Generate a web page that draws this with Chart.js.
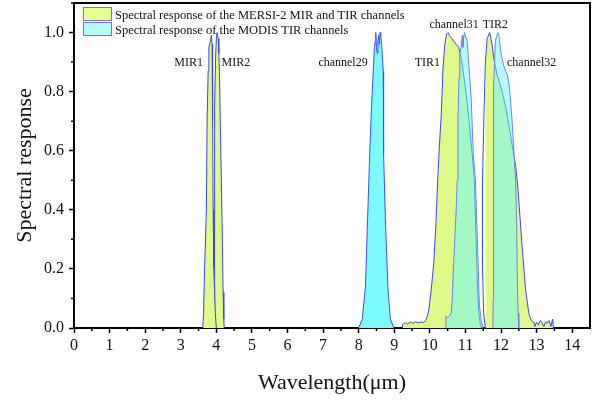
<!DOCTYPE html>
<html>
<head>
    <title>Spectral response - MERSI-2 / MODIS</title>
    <script src="https://cdn.jsdelivr.net/npm/chart.js"></script>
    <style>
        html, body { margin: 0; padding: 0; background: #fff; }
        #wrap { width: 600px; height: 402px; position: relative; }
    </style>
</head>
<body>
    <div id="wrap"><canvas id="srfChart"></canvas></div>
    <script>
        // MERSI-2 channels (wavelength in um, normalised response)
        const mir1Wl   = [3.62, 3.64, 3.67, 3.72, 3.74, 3.77, 3.79, 3.83, 3.86, 3.88, 3.895, 3.91, 3.93, 3.97, 4.00];
        const mir1Resp = [0, 0.05, 0.2, 0.4, 0.7, 0.87, 0.95, 0.97, 0.99, 0.96, 0.7, 0.4, 0.2, 0.05, 0];

        const mir2Wl   = [3.94, 3.945, 3.95, 3.96, 3.98, 4.00, 4.02, 4.05, 4.07, 4.09, 4.11, 4.16, 4.19, 4.21, 4.22];
        const mir2Resp = [0, 0.2, 0.5, 0.75, 0.92, 0.98, 1.0, 0.98, 0.93, 0.85, 0.7, 0.37, 0.12, 0.03, 0];

        const tir1Wl   = [9.22, 9.23, 9.3, 9.38, 9.45, 9.52, 9.6, 9.68, 9.75, 9.82, 9.88, 9.93, 9.97, 10.03, 10.11, 10.17, 10.22, 10.27, 10.32, 10.37, 10.42, 10.47, 10.51, 10.55, 10.62, 10.67, 10.74, 10.81, 10.9, 10.98, 11.05, 11.12, 11.18, 11.25, 11.3, 11.34, 11.38, 11.42, 11.45];
        const tir1Resp = [0, 0.012, 0.018, 0.014, 0.02, 0.016, 0.021, 0.017, 0.02, 0.019, 0.025, 0.04, 0.06, 0.12, 0.22, 0.35, 0.5, 0.62, 0.72, 0.88, 0.96, 0.995, 1.0, 0.99, 0.98, 0.97, 0.96, 0.95, 0.9, 0.83, 0.76, 0.68, 0.6, 0.5, 0.3, 0.13, 0.05, 0.01, 0];

        const tir2Wl   = [11.56, 11.51, 11.48, 11.48, 11.52, 11.56, 11.61, 11.68, 11.75, 11.8, 11.89, 12.03, 12.13, 12.22, 12.31, 12.41, 12.47, 12.53, 12.59, 12.69, 12.78, 12.85, 12.92, 12.95, 13.0, 13.05, 13.1, 13.15, 13.2, 13.25, 13.3, 13.35, 13.4, 13.45, 13.47];
        const tir2Resp = [0, 0.05, 0.2, 0.5, 0.72, 0.9, 0.98, 1.0, 0.957, 0.91, 0.856, 0.8, 0.75, 0.687, 0.62, 0.55, 0.48, 0.38, 0.28, 0.13, 0.05, 0.025, 0.02, 0.005, 0.02, 0.01, 0.025, 0.02, 0.005, 0.02, 0.018, 0.025, 0.005, 0.03, 0];

        // MODIS channels
        const ch29Wl   = [8.0, 8.1, 8.19, 8.25, 8.31, 8.36, 8.41, 8.44, 8.46, 8.48, 8.5, 8.52, 8.54, 8.56, 8.58, 8.6, 8.62, 8.64, 8.66, 8.69, 8.7, 8.75, 8.82, 8.89, 8.99];
        const ch29Resp = [0, 0.03, 0.14, 0.37, 0.59, 0.75, 0.87, 0.95, 0.97, 1.0, 0.95, 0.93, 0.97, 0.99, 0.96, 1.0, 0.99, 0.97, 0.93, 0.87, 0.59, 0.37, 0.14, 0.03, 0];

        const ch31Wl   = [10.44, 10.45, 10.5, 10.55, 10.6, 10.63, 10.66, 10.7, 10.74, 10.77, 10.79, 10.82, 10.84, 10.88, 10.91, 10.93, 10.95, 10.97, 11.0, 11.05, 11.09, 11.16, 11.22, 11.28, 11.34, 11.39, 11.45, 11.5];
        const ch31Resp = [0, 0.04, 0.035, 0.04, 0.05, 0.1, 0.2, 0.3, 0.4, 0.5, 0.7, 0.85, 0.93, 0.95, 0.99, 0.95, 0.98, 1.0, 0.99, 0.97, 0.9, 0.78, 0.59, 0.5, 0.28, 0.08, 0.02, 0];

        const ch32Wl   = [11.77, 11.78, 11.785, 11.79, 11.8, 11.84, 11.88, 11.91, 11.94, 11.97, 12.0, 12.05, 12.1, 12.17, 12.22, 12.25, 12.3, 12.35, 12.41, 12.44, 12.46, 12.48, 12.5];
        const ch32Resp = [0, 0.1, 0.4, 0.7, 0.82, 0.97, 0.99, 1.0, 0.99, 0.96, 0.93, 0.9, 0.88, 0.86, 0.83, 0.79, 0.72, 0.62, 0.5, 0.35, 0.15, 0.05, 0];

        // channel names and where they sit (um, response)
        const bandNames = ['MIR1', 'MIR2', 'channel29', 'TIR1', 'channel31', 'TIR2', 'channel32'];
        const bandNameX = [3.22, 4.55, 7.56, 9.93, 10.68, 11.84, 12.86];
        const bandNameY = [0.887, 0.887, 0.887, 0.887, 1.014, 1.014, 0.887];

        const legendTexts = ['Spectral response of the MERSI-2 MIR and TIR channels', 'Spectral response of the MODIS TIR channels'];

        const SERIF = "'Liberation Serif', 'Times New Roman', serif";
        const YELLOW = 'rgb(223,250,138)';
        const zip = (xs, ys) => xs.map((x, i) => ({ x: x, y: ys[i] }));

        function mersi(data) {
            return { data: data, order: 2, fill: 'origin', backgroundColor: YELLOW,
                     borderColor: 'rgb(60,70,225)', borderWidth: 1, pointRadius: 0, tension: 0 };
        }
        function modis(data, fillCol, lineCol) {
            return { data: data, order: 1, fill: 'origin', backgroundColor: fillCol,
                     borderColor: lineCol, borderWidth: 1, pointRadius: 0, tension: 0 };
        }

        // minor ticks, plot frame, band names and the in-plot legend
        const decorations = {
            id: 'decorations',
            afterDraw(chart) {
                const ctx = chart.ctx;
                const { left, right, top, bottom } = chart.chartArea;
                const xs = chart.scales.x, ys = chart.scales.y;
                ctx.save();
                ctx.strokeStyle = '#000';
                ctx.lineWidth = 1.5;
                ctx.beginPath();
                for (let v = 0.5; v < 14.5; v += 1) {
                    const px = xs.getPixelForValue(v);
                    ctx.moveTo(px, bottom); ctx.lineTo(px, bottom + 3);
                }
                for (let v = 0.1; v < 1.1; v += 0.2) {
                    const py = ys.getPixelForValue(v);
                    ctx.moveTo(left, py); ctx.lineTo(left - 3, py);
                }
                ctx.stroke();

                ctx.lineWidth = 2;
                ctx.beginPath();
                ctx.moveTo(left, top); ctx.lineTo(right, top); ctx.lineTo(right, bottom);
                ctx.stroke();

                ctx.fillStyle = '#111';
                ctx.font = '12px ' + SERIF;
                ctx.textAlign = 'center';
                ctx.textBaseline = 'alphabetic';
                bandNames.forEach((name, i) => {
                    ctx.fillText(name, xs.getPixelForValue(bandNameX[i]), ys.getPixelForValue(bandNameY[i]));
                });

                const boxFill = ['rgb(230,255,148)', 'rgb(182,252,255)'];
                ctx.textAlign = 'left';
                ctx.font = '12.5px ' + SERIF;
                legendTexts.forEach((txt, i) => {
                    const y = 7 + i * 15;
                    ctx.fillStyle = boxFill[i];
                    ctx.fillRect(83, y, 28, 13);
                    ctx.strokeStyle = 'rgb(110,115,225)';
                    ctx.lineWidth = 1;
                    ctx.strokeRect(83.5, y + 0.5, 28, 13);
                    ctx.fillStyle = '#111';
                    ctx.fillText(txt, 115, y + 11.5);
                });
                ctx.restore();
            }
        };

        new Chart(document.getElementById('srfChart'), {
            type: 'line',
            data: {
                datasets: [
                    mersi(zip(mir1Wl, mir1Resp)),
                    mersi(zip(mir2Wl, mir2Resp)),
                    mersi(zip(tir1Wl, tir1Resp)),
                    mersi(zip(tir2Wl, tir2Resp)),
                    modis(zip(ch29Wl, ch29Resp), 'rgb(125,250,255)', 'rgb(60,80,230)'),
                    modis(zip(ch31Wl, ch31Resp), 'rgba(105,245,255,0.5)', 'rgb(110,130,235)'),
                    modis(zip(ch32Wl, ch32Resp), 'rgba(105,245,255,0.5)', 'rgb(110,130,235)')
                ]
            },
            options: {
                responsive: true,
                maintainAspectRatio: false,
                animation: false,
                layout: { padding: { top: 3, right: 10, left: 0, bottom: 0 } },
                plugins: { legend: { display: false }, tooltip: { enabled: false } },
                scales: {
                    x: {
                        type: 'linear', min: 0, max: 14.5,
                        afterFit: s => { s.height = 74; s.paddingLeft = 0; s.paddingRight = 0; },
                        border: { color: '#000', width: 2 },
                        grid: { drawOnChartArea: false, tickLength: 5, tickColor: '#000', tickWidth: 1.5 },
                        ticks: { stepSize: 1, includeBounds: false, padding: 3, color: '#111',
                                 font: { family: SERIF, size: 16 } },
                        title: { display: true, text: 'Wavelength(\u03bcm)', color: '#111',
                                 font: { family: SERIF, size: 22 }, padding: { top: 0, bottom: 6 } }
                    },
                    y: {
                        min: 0, max: 1.1,
                        afterFit: s => { s.width = 74; s.paddingTop = 0; s.paddingBottom = 0; },
                        border: { color: '#000', width: 2 },
                        grid: { drawOnChartArea: false, tickLength: 5, tickColor: '#000', tickWidth: 1.5 },
                        ticks: { stepSize: 0.2, includeBounds: false, padding: 5, color: '#111',
                                 font: { family: SERIF, size: 16 },
                                 callback: v => v.toFixed(1) },
                        title: { display: true, text: 'Spectral response', color: '#111',
                                 font: { family: SERIF, size: 22 }, padding: { top: 12, bottom: 0 } }
                    }
                }
            },
            plugins: [decorations]
        });
    </script>
</body>
</html>
